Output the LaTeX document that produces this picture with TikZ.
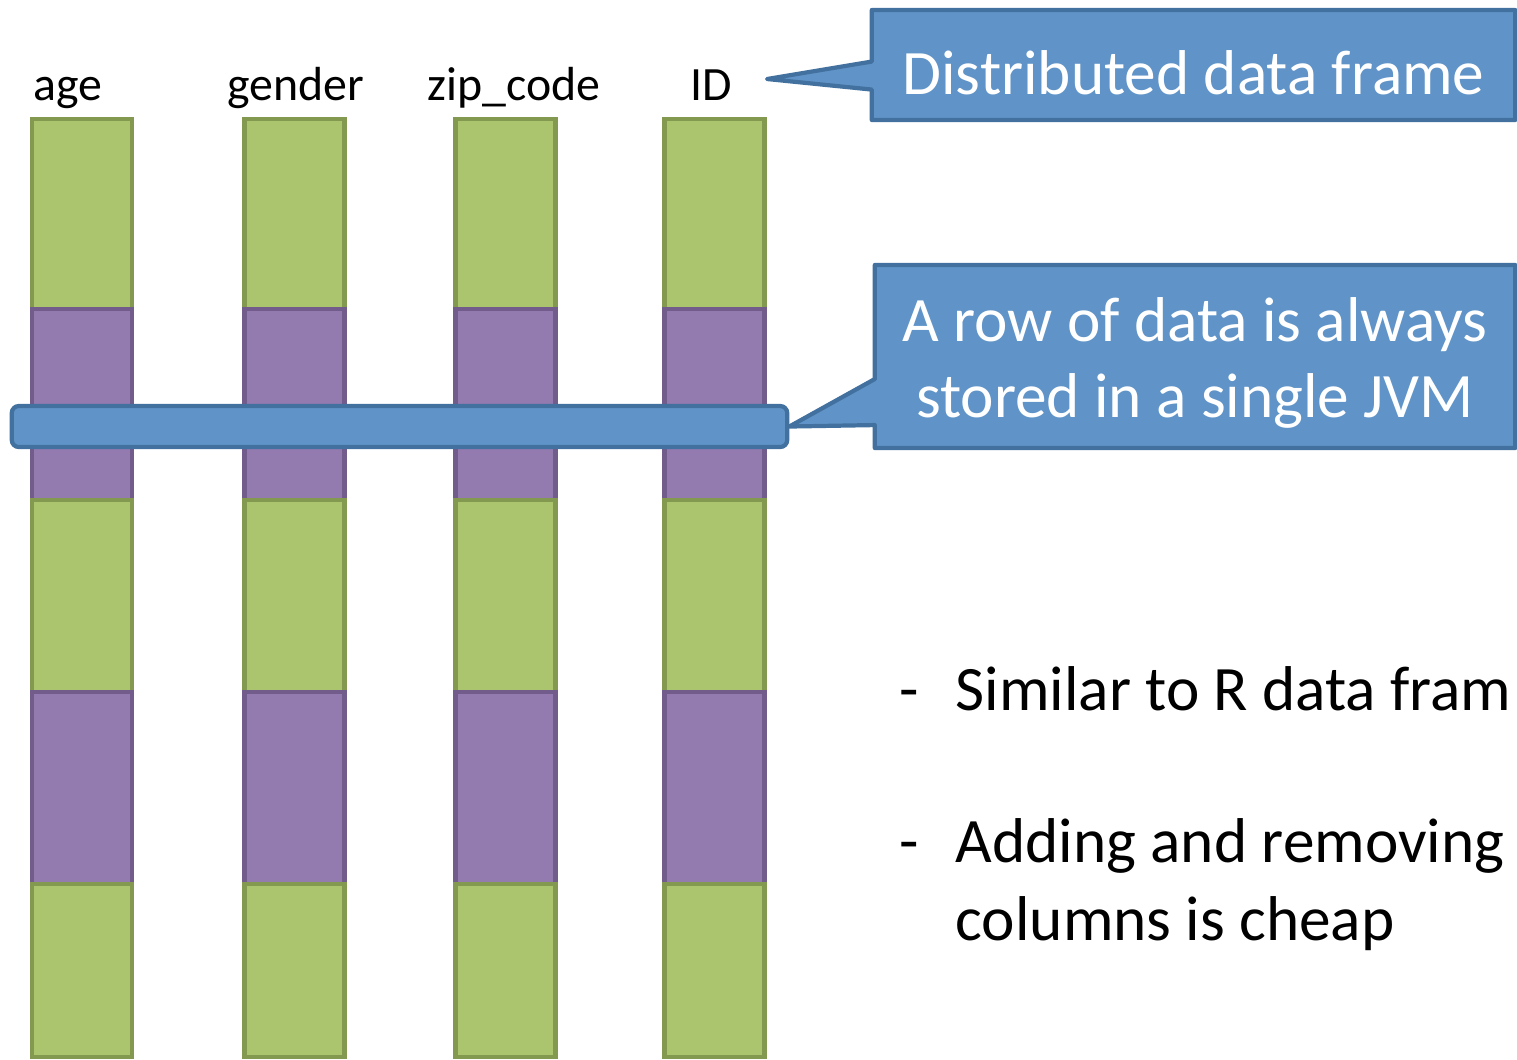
\documentclass[tikz,border=0pt]{standalone}
\usepackage{fontspec}
\setmainfont{Carlito}
\usetikzlibrary{shapes.callouts, positioning}

\definecolor{cellgreen}{RGB}{171,196,110}
\definecolor{edgegreen}{RGB}{131,153,79}
\definecolor{cellpurple}{RGB}{147,122,175}
\definecolor{edgepurple}{RGB}{113,92,139}
\definecolor{cellblue}{RGB}{96,148,200}
\definecolor{edgeblue}{RGB}{66,113,160}

% lower the text inside a box without changing the box
\newcommand{\droptext}[1]{\raisebox{-0.08cm}[\height][\depth]{#1}}

\tikzset{
  cell/.style={rectangle, line width=1.2pt, minimum width=1cm, inner sep=0pt},
  greencell/.style={cell, draw=edgegreen, fill=cellgreen},
  purplecell/.style={cell, draw=edgepurple, fill=cellpurple},
  collabel/.style={anchor=base, font=\fontsize{13.6}{16}\selectfont},
  rowbar/.style={rectangle, rounded corners=2pt, draw=edgeblue, fill=cellblue,
    line width=1.2pt, minimum width=7.75cm, minimum height=0.41cm, inner sep=0pt},
  callbox/.style={rectangle callout, draw=edgeblue, fill=cellblue, line width=1.2pt,
    line join=round, text=white, inner sep=0pt, callout pointer width=0.28cm,
    font=\fontsize{18}{21.5}\selectfont},
  bullettext/.style={anchor=base west, inner sep=0pt, font=\fontsize{18}{22}\selectfont}
}

\begin{document}
\begin{tikzpicture}[x=0.01cm, y=-0.01cm]
  \useasboundingbox (0,0) rectangle (1517,1059);
  \clip (0,0) rectangle (1517,1059);

  % columns, each cut into blocks of rows
  \foreach \c/\x in {1/82, 2/294.5, 3/505.5, 4/714.5} {
    \foreach \r/\top/\bot/\kind in {1/119/309/greencell, 2/309/500/purplecell,
        3/500/692/greencell, 4/692/884/purplecell, 5/884/1057/greencell} {
      \node[\kind, minimum height={(\bot-\top)*0.01cm}] (cell\c\r)
        at (\x, {(\top+\bot)/2}) {};
    }
  }

  % column names
  \node[collabel] (age) at (68,100) {age};
  \node[collabel] (gender) at (296,100) {gender};
  \node[collabel] (zip) at (514,100) {zip\_code};
  \node[collabel] (id) at (711,100) {ID};

  % one row across all columns
  \node[rowbar] (row) at (399.5,426.5) {};

  % callouts
  \coordinate (frametip) at (767,79);
  \node[callbox, minimum width=6.43cm, minimum height=1.1cm,
    callout absolute pointer={(frametip)}] (frame) at (1193.5,65)
    {\droptext{Distributed data frame}};
  \node[callbox, minimum width=6.4cm, minimum height=1.83cm,
    callout pointer width=0.46cm,
    callout absolute pointer={(row.east)}] (jvm) at (1195,356.5)
    {\droptext{\begin{tabular}{@{}c@{}}A row of data is always\\
      stored in a single JVM\end{tabular}}};

  % notes
  \node[bullettext] (dash1) at (899,710) {-};
  \node[bullettext] (note1) at (955,710) {Similar to R data fram};
  \node[bullettext] (dash2) at (899,862) {-};
  \node[bullettext] (note2) at (955,862) {Adding and removing};
  \node[bullettext] (note3) at (955,940) {columns is cheap};
\end{tikzpicture}
\end{document}
